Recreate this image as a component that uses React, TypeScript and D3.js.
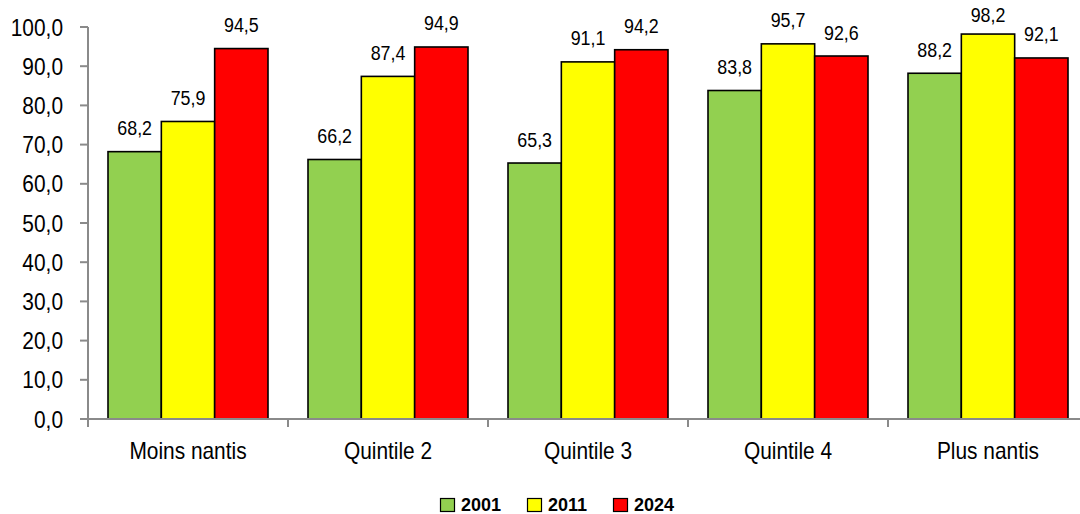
import React from "react";
import * as d3 from "d3";

const categories = ["Moins nantis", "Quintile 2", "Quintile 3", "Quintile 4", "Plus nantis"];
const seriesNames = ["2001", "2011", "2024"];
const values2001 = [68.2, 66.2, 65.3, 83.8, 88.2];
const values2011 = [75.9, 87.4, 91.1, 95.7, 98.2];
const values2024 = [94.5, 94.9, 94.2, 92.6, 92.1];
const colors = ["#92D050", "#FFFF00", "#FF0000"];
const yTicks = [0, 10, 20, 30, 40, 50, 60, 70, 80, 90, 100];

const W = 1080;
const H = 514;
const FONT = "'Liberation Sans', Arial, sans-serif";
const SX = 0.87;

export default function App() {
  const series = [values2001, values2011, values2024];
  const x0 = d3.scaleBand<string>().domain(categories).range([88, 1088]).paddingInner(0.2).paddingOuter(0.1);
  const x1 = d3.scaleBand<string>().domain(seriesNames).range([0, x0.bandwidth()]);
  const y = d3.scaleLinear().domain([0, 100]).range([419, 27]);
  const fmt = (v: number) => d3.format(".1f")(v).replace(".", ",");
  const axisColor = "#8a8a8a";
  const step = x0.step();
  const catStart = (c: string) => (x0(c) as number) - step * 0.1;

  const legendX = [440, 527, 613];

  return (
    <svg width={W} height={H} style={{ position: "absolute", left: 0, top: 0, background: "#fff" }} fontFamily={FONT}>
      {categories.map((c, ci) =>
        seriesNames.map((s, si) => {
          const v = series[si][ci];
          const bx = (x0(c) as number) + (x1(s) as number);
          return (
            <rect
              key={c + s}
              x={bx}
              y={y(v)}
              width={x1.bandwidth()}
              height={y(0) - y(v)}
              fill={colors[si]}
              stroke="#000"
              strokeWidth={1.6}
            />
          );
        })
      )}
      {categories.map((c, ci) =>
        seriesNames.map((s, si) => {
          const v = series[si][ci];
          const cx = (x0(c) as number) + (x1(s) as number) + x1.bandwidth() / 2;
          const by = Math.max(y(v) - 16.5, 22);
          return (
            <text
              key={"l" + c + s}
              transform={`translate(${cx},${by}) scale(${SX},1)`}
              textAnchor="middle"
              fontSize={20.5}
              fill="#000"
            >
              {fmt(v)}
            </text>
          );
        })
      )}
      <line x1={88} x2={88} y1={y(100)} y2={y(0)} stroke={axisColor} strokeWidth={2} />
      {yTicks.map((t) => (
        <g key={"yt" + t}>
          <line x1={80} x2={88} y1={y(t)} y2={y(t)} stroke={axisColor} strokeWidth={2} />
          <text
            transform={`translate(63,${y(t) + 8.5}) scale(${SX},1)`}
            textAnchor="end"
            fontSize={24}
            fill="#000"
          >
            {fmt(t)}
          </text>
        </g>
      ))}
      <line x1={88} x2={W} y1={y(0)} y2={y(0)} stroke={axisColor} strokeWidth={2} />
      {categories.map((c) => (
        <line key={"xt" + c} x1={catStart(c)} x2={catStart(c)} y1={y(0)} y2={y(0) + 8} stroke={axisColor} strokeWidth={2} />
      ))}
      {categories.map((c) => (
        <text
          key={"xl" + c}
          transform={`translate(${catStart(c) + step / 2},${459}) scale(${SX},1)`}
          textAnchor="middle"
          fontSize={24}
          fill="#000"
        >
          {c}
        </text>
      ))}
      {seriesNames.map((s, si) => (
        <g key={"lg" + s}>
          <rect x={legendX[si] + 0.5} y={498.5} width={14} height={13} fill={colors[si]} stroke="#000" strokeWidth={1.2} />
          <text x={legendX[si] + 21} y={511} fontSize={18} fontWeight="bold" fill="#000">
            {s}
          </text>
        </g>
      ))}
    </svg>
  );
}
